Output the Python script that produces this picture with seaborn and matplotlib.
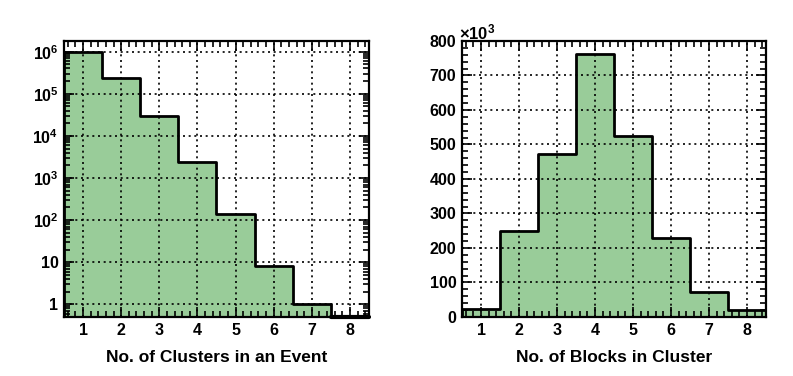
import numpy as np
import pandas as pd
import matplotlib
matplotlib.use("Agg")
import matplotlib.pyplot as plt
import matplotlib.ticker as mticker
import seaborn as sns

sns.set_style("ticks")
plt.rcParams["font.family"] = ["Liberation Sans", "DejaVu Sans"]
plt.rcParams["font.weight"] = "bold"
plt.rcParams["text.color"] = "black"
plt.rcParams["axes.labelcolor"] = "black"
plt.rcParams["xtick.color"] = "black"
plt.rcParams["ytick.color"] = "black"
plt.rcParams["axes.edgecolor"] = "black"
plt.rcParams["mathtext.fontset"] = "custom"
plt.rcParams["mathtext.rm"] = "Liberation Sans:bold"
plt.rcParams["mathtext.bf"] = "Liberation Sans:bold"
plt.rcParams["mathtext.it"] = "Liberation Sans:bold"

# bin centres and counts
n_values = [1, 2, 3, 4, 5, 6, 7, 8]
clusters_per_event = [1.0e6, 2.4e5, 3.0e4, 2400, 138, 8, 1, 0]
blocks_per_cluster = [23e3, 248e3, 473e3, 763e3, 525e3, 228e3, 72e3, 20e3]

fill_color = "#99cc99"

df = pd.DataFrame({
    "n": n_values,
    "clusters": clusters_per_event,
    "blocks": blocks_per_cluster,
})

fig = plt.figure(figsize=(7.93, 3.76), dpi=100)
ax1 = fig.add_axes([0.0807, 0.157, 0.3846, 0.734])
ax2 = fig.add_axes([0.5826, 0.157, 0.3834, 0.734])


def style_axes(ax):
    ax.tick_params(which="both", direction="in", top=True, right=True,
                   labelsize=11.5, width=1.2, pad=4, colors="black")
    ax.tick_params(which="major", length=7)
    ax.tick_params(which="minor", length=4)
    ax.grid(True, which="major", color="black", linestyle=(0, (1.2, 2.2)),
            linewidth=1.2)
    ax.set_axisbelow(False)
    for s in ax.spines.values():
        s.set_linewidth(1.6)
        s.set_color("black")
        s.set_visible(True)
    ax.set_xlim(0.5, 8.5)
    ax.xaxis.set_major_locator(mticker.MultipleLocator(1))
    ax.xaxis.set_minor_locator(mticker.MultipleLocator(0.2))
    ax.set_ylabel("")
    ax.xaxis.get_offset_text().set_visible(False)
    ax.yaxis.get_offset_text().set_visible(False)


def bold_ticks(ax):
    for lab in ax.get_xticklabels() + ax.get_yticklabels():
        lab.set_fontweight("bold")


# left: clusters in an event (log scale)
sns.histplot(data=df, x="n", weights="clusters", discrete=True,
             element="step", fill=True, color=fill_color, alpha=1.0,
             edgecolor="black", linewidth=2, ax=ax1)
ax1.set_yscale("log", nonpositive="clip")
ax1.set_ylim(0.5, 1.8e6)
style_axes(ax1)


def log_fmt(v, pos):
    e = int(round(np.log10(v)))
    if e == 0:
        return "1"
    if e == 1:
        return "10"
    return r"$10^{%d}$" % e


ax1.yaxis.set_major_locator(mticker.LogLocator(base=10, numticks=10))
ax1.yaxis.set_major_formatter(mticker.FuncFormatter(log_fmt))
ax1.yaxis.set_minor_locator(mticker.LogLocator(base=10, subs=np.arange(2, 10), numticks=20))
ax1.yaxis.set_minor_formatter(mticker.NullFormatter())
ax1.set_xlabel("No. of Clusters in an Event", fontsize=12.5,
               fontweight="bold", labelpad=9)
# empty last bin sits on the bottom edge
ax1.plot([7.5, 8.5], [0.5, 0.5], color="black", linewidth=3, clip_on=False)
bold_ticks(ax1)

# right: blocks in cluster (linear scale, x10^3)
sns.histplot(data=df, x="n", weights="blocks", discrete=True,
             element="step", fill=True, color=fill_color, alpha=1.0,
             edgecolor="black", linewidth=2, ax=ax2)
ax2.set_ylim(0, 800e3)
style_axes(ax2)
ax2.yaxis.set_major_locator(mticker.MultipleLocator(100e3))
ax2.yaxis.set_minor_locator(mticker.MultipleLocator(20e3))
ax2.yaxis.set_major_formatter(mticker.FuncFormatter(lambda v, p: "%d" % round(v / 1e3)))
ax2.text(-0.01, 0.995, r"$\times10^{3}$", transform=ax2.transAxes,
         fontsize=12, ha="left", va="bottom")
ax2.set_xlabel("No. of Blocks in Cluster", fontsize=12.5,
               fontweight="bold", labelpad=9)
bold_ticks(ax2)

fig.savefig("out.png", dpi=100)
